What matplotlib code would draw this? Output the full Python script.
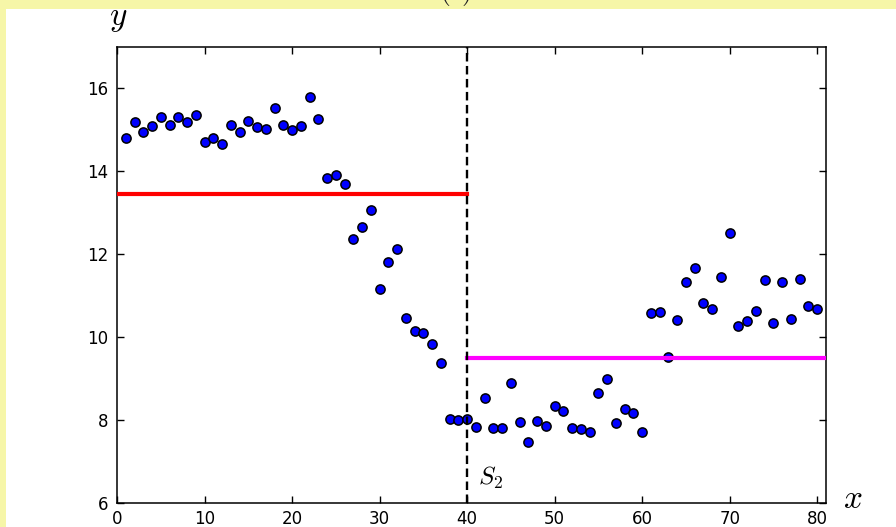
import matplotlib
matplotlib.use("Agg")
import matplotlib.pyplot as plt
from matplotlib.patches import Rectangle

plt.rcParams["mathtext.fontset"] = "cm"

x_vals = list(range(1, 81))
y_vals = [
    14.80, 15.19, 14.96, 15.10, 15.32, 15.13, 15.32, 15.20, 15.35, 14.72,
    14.80, 14.66, 15.13, 14.94, 15.21, 15.07, 15.02, 15.52, 15.13, 14.99,
    15.10, 15.79, 15.27, 13.83, 13.92, 13.70, 12.37, 12.65, 13.08, 11.16,
    11.81, 12.13, 10.47, 10.14, 10.09, 9.84, 9.37, 8.02, 8.00, 8.02,
    7.83, 8.54, 7.80, 7.80, 8.90, 7.95, 7.47, 7.98, 7.86, 8.33,
    8.21, 7.80, 7.78, 7.72, 8.66, 9.00, 7.94, 8.27, 8.17, 7.72,
    10.58, 10.61, 9.53, 10.42, 11.33, 11.68, 10.83, 10.69, 11.46, 12.51,
    10.28, 10.40, 10.64, 11.38, 10.34, 11.33, 10.45, 11.41, 10.75, 10.67,
]
split_x = 40
left_mean = 13.45
right_mean = 9.50
x_range = (0, 81)
y_range = (6, 17)
x_ticks = [0, 10, 20, 30, 40, 50, 60, 70, 80]
y_ticks = [6, 8, 10, 12, 14, 16]

fig = plt.figure(figsize=(8.96, 5.27), dpi=100)
fig.patch.set_facecolor("white")
yellow = "#f6f6a8"
fig.patches.append(Rectangle((0, 0), 6 / 896, 1, transform=fig.transFigure,
                             facecolor=yellow, edgecolor="none", zorder=0))
fig.patches.append(Rectangle((0, 1 - 9 / 527), 1, 9 / 527, transform=fig.transFigure,
                             facecolor=yellow, edgecolor="none", zorder=0))
fig.text(455 / 896, 1 + 0.5 / 527, r"$(b)$", ha="center", va="baseline",
         fontsize=20, color="#222222")

ax = fig.add_axes([117 / 896, 24 / 527, (826 - 117) / 896, (503 - 47) / 527])
ax.scatter(x_vals, y_vals, s=44, c="#0000ff", edgecolors="black", linewidths=1.1, zorder=2)
ax.plot([x_range[0], split_x], [left_mean, left_mean], color="#ff0000", lw=3, zorder=3)
ax.plot([split_x, x_range[1]], [right_mean, right_mean], color="#ff00ff", lw=3, zorder=3)
ax.plot([split_x, split_x], list(y_range), color="black", lw=1.7, dashes=(3.6, 1.9), zorder=4)

ax.set_xlim(*x_range)
ax.set_ylim(*y_range)
ax.set_xticks(x_ticks)
ax.set_yticks(y_ticks)
ax.tick_params(direction="in", top=True, right=True, length=5, width=1, labelsize=12,
               colors="black")
ax.tick_params(axis="x", pad=5)
ax.tick_params(axis="y", pad=6)
for s in ax.spines.values():
    s.set_linewidth(1.1)

ax.text(split_x + 1.2, 6.6, r"$S_2$", fontsize=18, ha="left", va="center")
fig.text(118 / 896, 1 - 18 / 527, r"$y$", fontsize=24, ha="center", va="center")
fig.text(853 / 896, 1 - 499 / 527, r"$x$", fontsize=24, ha="center", va="center")

fig.savefig("out.png", dpi=100, facecolor=fig.get_facecolor())
